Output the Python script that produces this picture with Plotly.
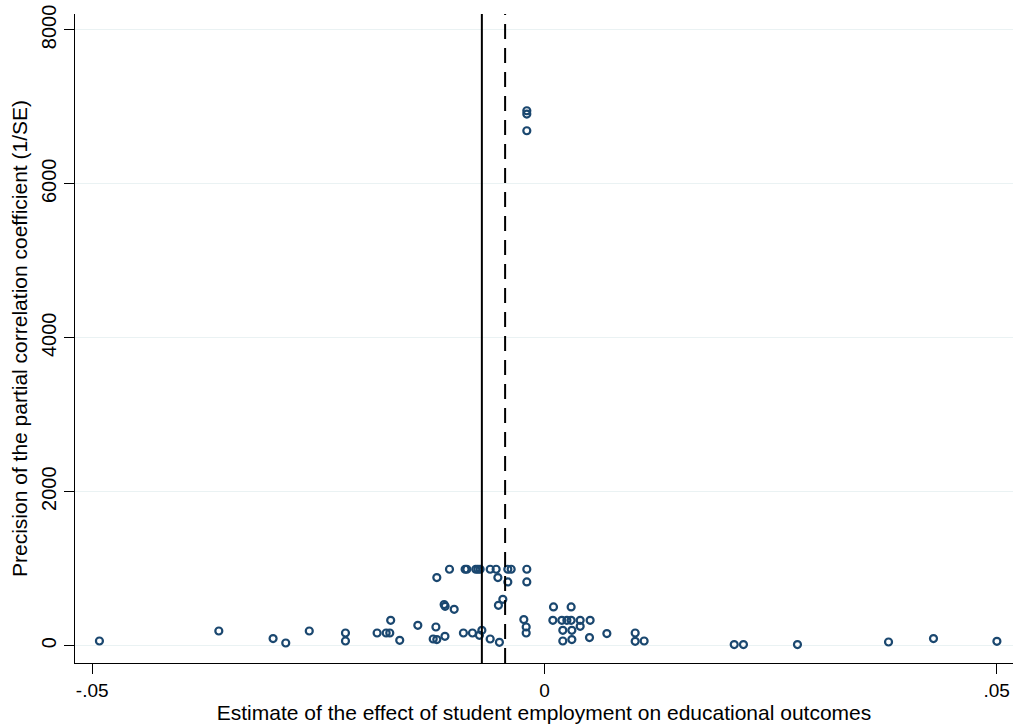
import plotly.graph_objects as go

# Estimated effects (partial correlation) and their precision (1/SE)
estimate = [
    -0.0492, -0.0360, -0.0300, -0.0286, -0.0260, -0.0220, -0.0220,
    -0.0185, -0.0175, -0.0171, -0.0170, -0.0160, -0.0140, -0.0120,
    -0.0123, -0.0119, -0.0110, -0.00896, -0.00796, -0.00719, -0.00692,
    -0.00600, -0.00498, -0.01109, -0.01098, -0.00998, -0.00509, -0.00460,
    -0.0119, -0.0105, -0.00877, -0.00858, -0.00759, -0.00736, -0.00711,
    -0.00600, -0.00534, -0.00515, -0.00405, -0.00368, -0.00405, -0.00195,
    -0.00195, -0.00228, -0.00202, -0.00202, -0.00195, -0.00195, -0.00195,
    0.00100, 0.00295, 0.00093, 0.00192, 0.00248, 0.00295, 0.00395,
    0.00505, 0.00203, 0.00303, 0.00395, 0.00203, 0.00303, 0.00498,
    0.00690, 0.01003, 0.01003, 0.01102, 0.02098, 0.02200, 0.02797,
    0.03804, 0.04301, 0.05002,
]
precision = [
    60, 190, 91, 34, 190, 164, 60,
    164, 164, 164, 329, 69, 264, 242,
    86, 78, 121, 164, 164, 134, 199,
    86, 43, 533, 511, 472, 524, 602,
    884, 992, 992, 992, 992, 992, 992,
    992, 992, 884, 992, 992, 827, 992,
    827, 338, 242, 164, 6950, 6907, 6690,
    502, 502, 329, 329, 329, 329, 329,
    329, 199, 199, 251, 60, 78, 104,
    156, 164, 56, 60, 13, 13, 13,
    47, 91, 56,
]

# Reference lines: simple mean (solid) and precision-weighted estimate (dashed)
mean_effect = -0.00692
weighted_effect = -0.00435

x_ticks = [-0.05, 0, 0.05]
x_tick_labels = ["-.05", "0", ".05"]
y_ticks = [0, 2000, 4000, 6000, 8000]
y_tick_labels = ["0", "2000", "4000", "6000", "8000"]

navy = "#1a476f"
font_family = "Liberation Sans, Arial, sans-serif"

fig = go.Figure()
fig.add_trace(go.Scatter(
    x=estimate, y=precision, mode="markers",
    marker=dict(symbol="circle-open", size=7, color=navy,
                line=dict(color=navy, width=2.2)),
    showlegend=False, hoverinfo="x+y",
))

fig.add_shape(type="line", xref="x", yref="paper",
              x0=mean_effect, x1=mean_effect, y0=0, y1=1,
              line=dict(color="black", width=2))
fig.add_shape(type="line", xref="x", yref="paper",
              x0=weighted_effect, x1=weighted_effect, y0=0, y1=1,
              line=dict(color="black", width=2, dash="15px,9px"))

fig.update_layout(
    width=1016, height=724,
    margin=dict(l=75, r=3, t=14, b=61),
    paper_bgcolor="white", plot_bgcolor="white",
    font=dict(family=font_family, size=20, color="black"),
    xaxis=dict(
        range=[-0.0519, 0.0518],
        tickvals=x_ticks, ticktext=x_tick_labels,
        ticks="outside", ticklen=10, tickwidth=1.3, tickcolor="black",
        showline=True, linecolor="black", linewidth=1.3,
        showgrid=False, zeroline=False,
        title=dict(text="Estimate of the effect of student employment on educational outcomes",
                   font=dict(size=21), standoff=4),
        tickfont=dict(size=19),
    ),
    yaxis=dict(
        range=[-226, 8207],
        tickvals=y_ticks, ticktext=y_tick_labels, tickangle=-90,
        ticks="outside", ticklen=10, tickwidth=1.3, tickcolor="black",
        showline=True, linecolor="black", linewidth=1.3,
        showgrid=True, gridcolor="#eaf2f3", gridwidth=1.3,
        zeroline=False,
        title=dict(text="Precision of the partial correlation coefficient (1/SE)",
                   font=dict(size=21), standoff=4),
        tickfont=dict(size=20),
    ),
)

fig.write_html("out.html")
